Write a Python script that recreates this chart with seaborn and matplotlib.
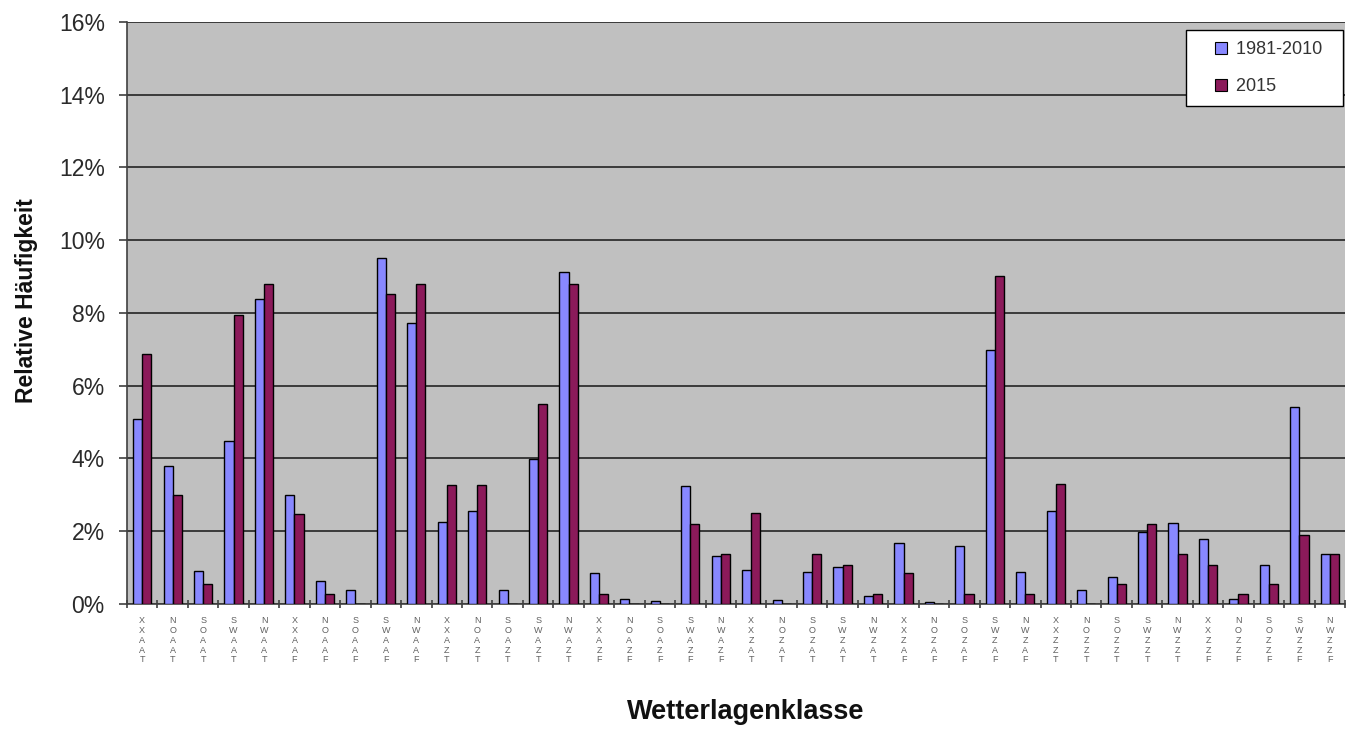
import numpy as np
import pandas as pd
import matplotlib
matplotlib.use("Agg")
import matplotlib.pyplot as plt
import seaborn as sns
from matplotlib.ticker import FuncFormatter, FixedLocator
from matplotlib.lines import Line2D

categories = ["XXAAT", "NOAAT", "SOAAT", "SWAAT", "NWAAT",
              "XXAAF", "NOAAF", "SOAAF", "SWAAF", "NWAAF",
              "XXAZT", "NOAZT", "SOAZT", "SWAZT", "NWAZT",
              "XXAZF", "NOAZF", "SOAZF", "SWAZF", "NWAZF",
              "XXZAT", "NOZAT", "SOZAT", "SWZAT", "NWZAT",
              "XXZAF", "NOZAF", "SOZAF", "SWZAF", "NWZAF",
              "XXZZT", "NOZZT", "SOZZT", "SWZZT", "NWZZT",
              "XXZZF", "NOZZF", "SOZZF", "SWZZF", "NWZZF"]

ref_1981_2010 = [5.09, 3.8, 0.92, 4.49, 8.38,
                 3.0, 0.64, 0.38, 9.52, 7.73,
                 2.26, 2.57, 0.38, 3.98, 9.12,
                 0.84, 0.14, 0.08, 3.24, 1.32,
                 0.93, 0.11, 0.89, 1.03, 0.23,
                 1.69, 0.06, 1.59, 6.98, 0.87,
                 2.56, 0.38, 0.73, 1.97, 2.24,
                 1.79, 0.14, 1.07, 5.41, 1.37]

year_2015 = [6.86, 2.99, 0.55, 7.94, 8.79,
             2.47, 0.27, 0.0, 8.51, 8.79,
             3.27, 3.27, 0.0, 5.49, 8.79,
             0.27, 0.0, 0.0, 2.2, 1.37,
             2.49, 0.0, 1.37, 1.07, 0.27,
             0.84, 0.0, 0.27, 9.03, 0.27,
             3.29, 0.0, 0.55, 2.2, 1.37,
             1.07, 0.27, 0.55, 1.91, 1.37]

series_names = ["1981-2010", "2015"]
y_ticks = [0, 2, 4, 6, 8, 10, 12, 14, 16]

df = pd.DataFrame({
    "Wetterlagenklasse": categories * 2,
    "value": ref_1981_2010 + year_2015,
    "series": [series_names[0]] * len(categories) + [series_names[1]] * len(categories),
})

sns.set_theme(style="white")
plt.rcParams["font.family"] = ["Liberation Sans", "DejaVu Sans"]

fig = plt.figure(figsize=(13.54, 7.33), dpi=100)
ax = fig.add_axes([0.0938, 0.176, 0.8996, 0.794])

colors = ["#8888FF", "#8B1A5A"]
palette = dict(zip(series_names, colors))
sns.barplot(data=df, x="Wetterlagenklasse", y="value", hue="series",
            hue_order=series_names, order=categories, palette=palette,
            width=0.6, edgecolor="black", linewidth=1.0, saturation=1,
            ax=ax, zorder=3, legend=False)

ax.set_facecolor("#C0C0C0")
ax.set_ylim(0, 16)
ax.set_xlim(-0.5, len(categories) - 0.5)
ax.yaxis.set_major_locator(FixedLocator(y_ticks))
ax.yaxis.set_major_formatter(FuncFormatter(lambda v, p: f"{int(v)}%"))
ax.grid(axis="y", color="#3a3a3a", linewidth=1.4, zorder=0)
ax.set_axisbelow(True)

for side in ["top", "right"]:
    ax.spines[side].set_visible(False)
for side in ["left", "bottom"]:
    ax.spines[side].set_color("#404040")
    ax.spines[side].set_linewidth(1.2)

ax.set_xticks(range(len(categories)))
ax.set_xticklabels(["\n".join(c) for c in categories], fontsize=6.5,
                   color="#606060", linespacing=1.1)
ax.tick_params(axis="x", length=0, pad=9)
ax.set_xticks(np.arange(-0.5, len(categories), 1), minor=True)
ax.tick_params(axis="x", which="minor", length=6, direction="inout",
               color="#404040", width=1.2, bottom=True)
ax.tick_params(axis="y", labelsize=16.5, length=6, direction="out", pad=10,
               color="#404040", width=1.2, left=True, labelcolor="#2a2a2a")

ax.set_ylabel("Relative Häufigkeit", fontsize=16.5, fontweight="bold", color="#111111")
ax.yaxis.set_label_coords(-0.073, 0.522)
ax.set_xlabel("Wetterlagenklasse", fontsize=19.5, fontweight="bold", color="#111111")
ax.xaxis.set_label_coords(0.508, -0.163)

handles = [Line2D([], [], linestyle="none", marker="s", markersize=8,
                  markerfacecolor=c, markeredgecolor="black", markeredgewidth=0.8)
           for c in colors]
leg = ax.legend(handles, [s + "  " for s in series_names], loc="upper right",
                bbox_to_anchor=(0.998, 0.986), borderaxespad=0,
                frameon=True, fancybox=False, edgecolor="black", framealpha=1,
                fontsize=13, handlelength=2.78, handletextpad=-0.61,
                borderpad=0.6, labelspacing=1.1)
leg.get_frame().set_facecolor("white")
leg.get_frame().set_linewidth(1.0)
for t in leg.get_texts():
    t.set_color("#333333")

fig.savefig("out.png", dpi=100, facecolor="white")
